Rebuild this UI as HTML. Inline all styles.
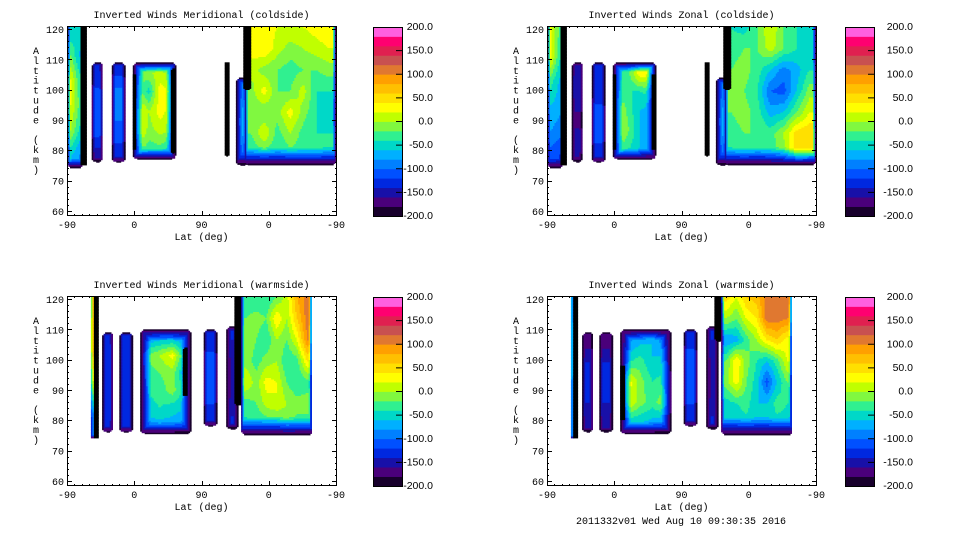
<!DOCTYPE html>
<html><head><meta charset="utf-8"><style>
html,body{margin:0;padding:0;background:#fff;}
svg{display:block;font-family:"Liberation Mono",monospace;font-size:10px;}
.cbl{font-family:"Liberation Sans",sans-serif;font-size:10.5px;}
</style></head><body>
<svg id="s" width="960" height="540" viewBox="0 0 960 540"></svg>
<script>
const colorLevels=['#18002c','#4a007a','#1810a8','#0028e0','#0050ff','#0080ff','#00b0ff','#00d8c8','#30f090','#80f840','#c0ff00','#ffff00','#ffe000','#ffc000','#ffa000','#e07830','#c85050','#e02050','#ff0070','#ff60e0'];
const colorbarLabels=['200.0','150.0','100.0','50.0','0.0','-50.0','-100.0','-150.0','-200.0'];
const altTicks=[60,70,80,90,100,110,120];
const latTickLabels=['-90','0','90','0','-90'];
const panelTitles=['Inverted Winds Meridional (coldside)','Inverted Winds Zonal (coldside)','Inverted Winds Meridional (warmside)','Inverted Winds Zonal (warmside)'];
// regions: u range (0..360 along axis), altitude range, interior values (rows top->bottom)
const tlRegions=[
 {u:[0,21],alt:[74,124],rim:3,rimB:10,vals:[[-60,-40],[-20,-60],[20,-30],[20,-20],[0,-40],[-60,-80]]},
 {u:[18,26],alt:[75,124],rim:1,rimB:2,vals:[[-210]]},
 {u:[33,48],alt:[76,109],rim:3,rimB:5,vals:[[-140],[-120],[-110],[-110],[-120],[-150]]},
 {u:[60,78],alt:[76,109],rim:3,rimB:5,vals:[[-130],[-100],[-100],[-100],[-110],[-140]]},
 {u:[88,146],alt:[77,109],rim:10,rimB:11,vals:[[-30,0,10,-10],[0,-50,30,20],[30,0,30,10],[40,-10,10,0],[-20,-30,-30,-40]]},
 {u:[139,146],alt:[79,107],rim:1,rimB:1,vals:[[-210]]},
 {u:[88,92],alt:[80,105],rim:1,rimB:1,vals:[[-210]]},
 {u:[211,217],alt:[78,109],rim:1,rimB:1,vals:[[-210]]},
 {u:[226,244],alt:[75,104],rim:6,rimB:14,vals:[[-90],[-70],[-90]]},
 {u:[238,360],alt:[75,124],rim:3,rimB:18,vals:[[40,30,20,20,20,30,40],[30,40,10,-10,0,10,20],[10,-10,-20,-30,-20,-20,-10],[-10,30,-20,-20,10,-40,-40],[-10,-20,-10,30,-10,-40,-50],[-20,20,-30,0,-30,-40,-40],[-40,-30,-40,-30,-30,-30,-40]]},
 {u:[236,246],alt:[100,124],rim:1,rimB:1,vals:[[-210]]}
];
const trRegions=[
 {u:[0,21],alt:[74,124],rim:3,rimB:10,vals:[[20,-20],[30,-30],[-30,-60],[-60,-70],[-80,-90],[-110,-120]]},
 {u:[18,26],alt:[75,124],rim:1,rimB:2,vals:[[-210]]},
 {u:[33,48],alt:[76,109],rim:3,rimB:5,vals:[[-150],[-140],[-150],[-170],[-150],[-160]]},
 {u:[60,78],alt:[76,109],rim:3,rimB:5,vals:[[-140],[-130],[-120],[-100],[-110],[-140]]},
 {u:[88,146],alt:[77,109],rim:10,rimB:11,vals:[[-40,-20,40,40],[-20,-40,-40,-30],[10,-30,-60,-70],[10,-20,-60,-70],[-20,-40,-60,-70]]},
 {u:[140,146],alt:[80,105],rim:1,rimB:1,vals:[[-210]]},
 {u:[88,92],alt:[80,105],rim:1,rimB:1,vals:[[-210]]},
 {u:[211,217],alt:[78,109],rim:1,rimB:1,vals:[[-210]]},
 {u:[226,244],alt:[75,104],rim:6,rimB:14,vals:[[-90],[-70],[-90]]},
 {u:[238,360],alt:[75,124],rim:3,rimB:18,vals:[[-40,-50,-20,20,-20,-40,-50],[-30,-20,-20,10,-20,-40,-50],[-20,-10,-30,-60,-90,-70,-40],[-20,-20,-40,-100,-110,-60,-10],[-20,-10,-30,-70,-60,-20,20],[-30,-20,-20,-30,0,50,60],[-40,-30,-40,-30,-10,60,50]]},
 {u:[236,246],alt:[100,124],rim:1,rimB:1,vals:[[-210]]}
];
const blRegions=[
 {u:[32,37],alt:[74,124],rim:1,rimB:3,vals:[[60],[80],[20],[-100]]},
 {u:[36,42],alt:[74,124],rim:1,rimB:2,vals:[[-210]]},
 {u:[47,62],alt:[76,109],rim:3,rimB:5,vals:[[-140],[-130],[-130],[-130],[-140]]},
 {u:[70,88],alt:[76,109],rim:3,rimB:5,vals:[[-140],[-130],[-130],[-130],[-140]]},
 {u:[98,167],alt:[75.5,110],rim:11,rimB:12,vals:[[-80,-70,-70,-80],[-20,0,30,-50],[-30,-20,-10,-70],[-40,-30,-10,-50],[-50,-40,-50,-60],[-70,-70,-70,-80]]},
 {u:[155,162],alt:[88,104],rim:1,rimB:1,vals:[[-210]]},
 {u:[183,201],alt:[78,110],rim:3,rimB:5,vals:[[-140],[-110],[-110],[-110],[-140]]},
 {u:[213,230],alt:[77,111],rim:5,rimB:6,vals:[[-140],[-150],[-150],[-140]]},
 {u:[224,236],alt:[85,124],rim:1,rimB:2,vals:[[-210]]},
 {u:[233,328],alt:[75,124],rim:3,rimB:18,vals:[[-30,-40,-40,-20,10,80,110],[-20,-10,-20,40,0,60,110],[0,-20,-40,0,-20,20,100],[-10,-30,-10,0,-40,-30,40],[20,-10,30,20,-20,-40,-30],[-30,-20,10,20,0,-10,-10],[-40,-40,-40,-40,-20,-30,-30]]}
];
const brRegions=[
 {u:[32,36],alt:[74,124],rim:1,rimB:3,vals:[[-40],[-30],[-60]]},
 {u:[35,42],alt:[74,124],rim:1,rimB:2,vals:[[-210]]},
 {u:[47,62],alt:[76,109],rim:3,rimB:5,vals:[[-170],[-140],[-140],[-140],[-150]]},
 {u:[70,88],alt:[76,109],rim:3,rimB:5,vals:[[-170],[-140],[-140],[-140],[-150]]},
 {u:[98,167],alt:[75.5,110],rim:11,rimB:12,vals:[[-90,-70,-60,-100],[-50,-30,-60,-50],[40,-10,-40,-30],[30,-10,-30,0],[-60,-60,-70,-80]]},
 {u:[98,104],alt:[80,98],rim:1,rimB:1,vals:[[-210]]},
 {u:[183,201],alt:[78,110],rim:3,rimB:5,vals:[[-130],[-110],[-100],[-110],[-140]]},
 {u:[213,230],alt:[77,111],rim:5,rimB:6,vals:[[-140],[-150],[-150],[-140]]},
 {u:[224,236],alt:[106,124],rim:1,rimB:2,vals:[[-210]]},
 {u:[233,328],alt:[75,124],rim:3,rimB:18,vals:[[50,20,60,70,110,110,110],[0,-20,20,40,110,110,100],[-80,-70,-30,0,40,60,30],[-20,40,-10,-40,-60,-30,20],[-10,30,-20,-50,-110,-60,-20],[-50,-40,-30,-60,-60,-30,-40],[-60,-60,-50,-60,-60,-50,-50]]}
];
const NS='http://www.w3.org/2000/svg';
const svg=document.getElementById('s');
function mk(tag,attrs,parent){const e=document.createElementNS(NS,tag);for(const k in attrs)e.setAttribute(k,attrs[k]);(parent||svg).appendChild(e);return e;}
function colorFor(v){if(v<-200)return '#000';let i=Math.floor((v+200)/20);if(i<0)i=0;if(i>19)i=19;return colorLevels[i];}
const panels=[
 {L:67,T:26,bar:306,regions:tlRegions,name:'meridional-coldside'},
 {L:547,T:26,bar:298,regions:trRegions,name:'zonal-coldside'},
 {L:67,T:296,bar:306,regions:blRegions,name:'meridional-warmside'},
 {L:547,T:296,bar:298,regions:brRegions,name:'zonal-warmside'}];
const W=269,H=189;
panels.forEach((p,pi)=>{
 const g=mk('g',{});
 
 
 const X=u=>p.L+u/360*W;
 const Y=a=>p.T+3+(120-a)*3.03;
 const t=mk('text',{x:p.L+W/2,y:p.T-8,'text-anchor':'middle'},g);t.textContent=panelTitles[pi];
 
 
 const fg=mk('g',{},g);
 
 
 const st=1.5;
 p.regions.forEach(r=>{
  const x0=X(r.u[0]),x1=X(r.u[1]),yt=Y(r.alt[1]),yb=Y(r.alt[0]);
  const y0=Math.max(p.T+1,yt),y1=Math.min(p.T+H,yb);
  const w=x1-x0,h=yb-yt,rows=r.vals.length,cols=r.vals[0].length;
  const rad=Math.min(6,w/2,h/2);
  for(let y=y0;y<y1;y+=st){
   let runStart=null,runCol=null;
   const flush=(xe)=>{if(runCol){const e=mk('rect',{x:runStart.toFixed(1),y:y.toFixed(1),width:(xe-runStart+0.4).toFixed(1),height:(Math.min(st,y1-y)+0.4).toFixed(1),fill:runCol},fg);
     
     }};
   for(let x=x0;x<x1;x+=st){
    const cx=x+st/2,cy=y+st/2;
    const dl=cx-x0,dr=x1-cx,dt=cy-yt,db=yb-cy;
    const dx=Math.min(dl,dr),dy=Math.min(dt,db);
    let inside=true;
    if(dx<rad&&dy<rad&&Math.hypot(rad-dx,rad-dy)>rad)inside=false;
    let col=null;
    if(inside&&dx>=0&&dy>=0){
     let fx=(cx-x0)/w*cols-0.5,fy=(cy-yt)/h*rows-0.5;
     fx=Math.max(0,Math.min(cols-1,fx));fy=Math.max(0,Math.min(rows-1,fy));
     const a=Math.min(Math.max(0,cols-2),Math.floor(fx)),b=Math.min(Math.max(0,rows-2),Math.floor(fy));
     const a2=Math.min(cols-1,a+1),b2=Math.min(rows-1,b+1),tx=fx-a,ty=fy-b;
     let v=(r.vals[b][a]*(1-tx)+r.vals[b][a2]*tx)*(1-ty)+(r.vals[b2][a]*(1-tx)+r.vals[b2][a2]*tx)*ty;
     const f=Math.min(dl/r.rim,dr/r.rim,dt/r.rim,db/r.rimB);
     if(f<1&&v>-200)v=-199+(v+199)*Math.max(0,f);
     col=colorFor(v);
    }
    if(col!==runCol){flush(x);runStart=x;runCol=col;}
   }
   flush(x1);
  }
 });
 const fr=mk('rect',{x:p.L+0.5,y:p.T+0.5,width:W,height:H,fill:'none',stroke:'#000','stroke-width':1},g);
 
 
 let tk='';
 for(let a=60;a<=120;a+=2){const y=Math.round(Y(a))+0.5,len=(a%10===0)?5:2;tk+=`M${p.L} ${y}h${len}M${p.L+W+1} ${y}h${-len}`;}
 for(let u=0;u<=360;u+=10){const x=Math.round(X(u))+0.5,len=(u%90===0)?5:2;tk+=`M${x} ${p.T+H+1}v${-len}M${x} ${p.T}v${len}`;}
 const tp=mk('path',{d:tk,stroke:'#000','stroke-width':1,fill:'none'},g);
 
 
 altTicks.forEach(a=>{const e=mk('text',{x:p.L-3,y:Y(a)+4,'text-anchor':'end'},g);e.textContent=a;
  
  });
 latTickLabels.forEach((l,i)=>{const e=mk('text',{x:X(i*90),y:p.T+H+13,'text-anchor':'middle'},g);e.textContent=l;
  
  });
 const xl=mk('text',{x:p.L+W/2,y:p.T+H+25,'text-anchor':'middle'},g);xl.textContent='Lat (deg)';
 
 
 const yl=mk('text',{'text-anchor':'middle'},g);
 
 
 'Altitude (km)'.split('').forEach((c,i)=>{const s=mk('tspan',{x:p.L-31,y:p.T+28+i*9.9},yl);s.textContent=c;});
 const bx=p.L+p.bar,by=p.T+1,bh=189,bw=29;
 const cb=mk('g',{},g);
 
 
 colorLevels.forEach((c,i)=>{const e=mk('rect',{x:bx,y:by+bh-(i+1)*bh/20,width:bw,height:bh/20+0.4,fill:c},cb);
  
  });
 mk('rect',{x:bx+0.5,y:by+0.5,width:bw,height:bh,fill:'none',stroke:'#000'},cb);
 colorbarLabels.forEach((l,i)=>{const yy=by+i*bh/8;
  if(i>0&&i<8)mk('line',{x1:bx+bw-6,x2:bx+bw,y1:yy,y2:yy,stroke:'#000'},cb);
  const e=mk('text',{class:'cbl',x:p.L+366,y:Math.max(yy+4,p.T+3)-1,'text-anchor':'end'},cb);e.textContent=l;
  
  });
});
const ts=mk('text',{x:681,y:524,'text-anchor':'middle'});ts.textContent='2011332v01 Wed Aug 10 09:30:35 2016';


</script>
</body></html>
